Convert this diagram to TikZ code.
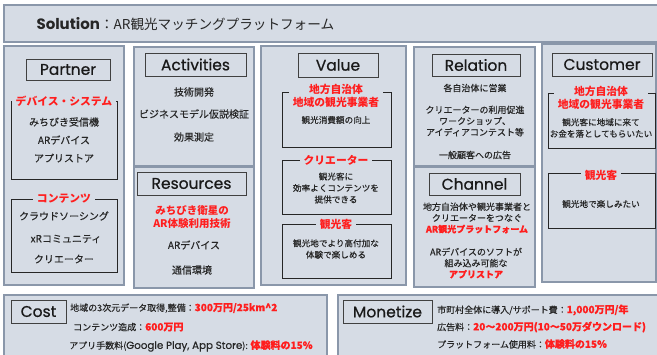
\documentclass[tikz,border=0pt]{standalone}
\usepackage{fontspec}
\setmainfont{Noto Sans CJK JP}
\newfontfamily\medfont{Noto Sans CJK JP}[FakeBold=0.35]
\newfontfamily\popfont{Poppins}
\newfontfamily\popmed{Poppins}[FakeBold=0.6]
\usetikzlibrary{fit}
\definecolor{bg}{HTML}{D6DCE5}
\definecolor{colb}{HTML}{8A97AA}
\definecolor{ttlb}{HTML}{404040}
\definecolor{brkb}{HTML}{262626}
\definecolor{rd}{HTML}{FF1E1E}
\definecolor{tx}{HTML}{262626}
\tikzset{
  colbox/.style={draw=colb, fill=bg, line width=1.3pt, inner sep=0pt},
  ttlbox/.style={draw=ttlb, fill=bg, line width=1pt, inner sep=0pt},
  ttltxt/.style={font=\popmed\fontsize{15.5}{15.5}\selectfont, text=black!90, inner sep=0pt},
  brkbox/.style={draw=brkb, line width=0.9pt, inner sep=0pt},
  brkhead/.style={fill=bg, text=rd, font=\bfseries\fontsize{10.8}{13.5}\selectfont,
     inner xsep=4pt, inner ysep=0.5pt, align=center},
  body/.style={font=\medfont\fontsize{10}{13}\selectfont, text=tx, align=center, inner sep=0pt},
  small/.style={font=\medfont\fontsize{8.6}{11.5}\selectfont, text=tx, align=center, inner sep=0pt},
  mid/.style={font=\medfont\fontsize{9}{11.2}\selectfont, text=tx, align=center, inner sep=0pt},
  redb/.style={text=rd, font=\bfseries\fontsize{10.5}{13}\selectfont, align=center, inner sep=0pt},
  line/.style={anchor=west, font=\medfont\fontsize{9}{11}\selectfont, text=tx, inner sep=0pt},
}
\newcommand\rtx[1]{{\color{rd}\bfseries\fontsize{10}{11}\selectfont #1}}
\begin{document}
\begin{tikzpicture}[x=1pt,y=-1pt]
\useasboundingbox (0,0) rectangle (657,354);
% title
\node[colbox, fit={(4,5) (662,42)}] (title) {};
\node[anchor=west, font=\fontsize{13.6}{16}\selectfont, text=tx] (titletxt) at (33,24)
  {{\popfont\bfseries\fontsize{15}{16}\selectfont Solution}：AR観光マッチングプラットフォーム};
% columns
\node[colbox, fit={(4,46) (124,285)}] (partner) {};
\node[colbox, fit={(134,47) (254,166)}] (activities) {};
\node[colbox, fit={(134,167) (254,288)}] (resources) {};
\node[colbox, fit={(261,46) (406,285)}] (value) {};
\node[colbox, fit={(414,47) (535,166)}] (relation) {};
\node[colbox, fit={(414,167) (535,287)}] (channel) {};
\node[colbox, fit={(542,44) (656,282)}] (customer) {};
\node[colbox, fit={(4,295) (327,360)}] (cost) {};
\node[colbox, fit={(338,295) (662,360)}] (monetize) {};
% heading boxes
\node[ttlbox, fit={(26,59) (110,80)}] (partnerT) {};
\node[ttltxt] at (partnerT) {Partner};
\node[ttlbox, fit={(145,53) (246,76)}] (activitiesT) {};
\node[ttltxt] at (activitiesT) {Activities};
\node[ttlbox, fit={(137,172) (246,195)}] (resourcesT) {};
\node[ttltxt] at (resourcesT) {Resources};
\node[ttlbox, fit={(298,53) (378,77)}] (valueT) {};
\node[ttltxt] at (valueT) {Value};
\node[ttlbox, fit={(432,54) (520,76)}] (relationT) {};
\node[ttltxt] at (relationT) {Relation};
\node[ttlbox, fit={(429,173) (520,195)}] (channelT) {};
\node[ttltxt] at (channelT) {Channel};
\node[ttlbox, fit={(552,53) (652,76)}] (customerT) {};
\node[ttltxt] at (customerT) {Customer};
\node[ttlbox, fit={(11,300) (66,323)}] (costT) {};
\node[ttltxt] at (costT) {Cost};
\node[ttlbox, fit={(343,300) (432,323)}] (monetizeT) {};
\node[ttltxt] at (monetizeT) {Monetize};
% Partner
\node[brkbox, fit={(11,101) (117,179)}] (pb1) {};
\node[brkhead] (pb1h) at (64,101) {デバイス・システム};
\node[body] (p1) at (64,122) {みちびき受信機};
\node[body] (p2) at (64,140) {ARデバイス};
\node[body] (p3) at (64,158) {アプリストア};
\node[brkbox, fit={(11,199) (117,272)}] (pb2) {};
\node[brkhead] (pb2h) at (64,199) {コンテンツ};
\node[body] (p4) at (64,216) {クラウドソーシング};
\node[body] (p5) at (66,239) {xRコミュニティ};
\node[body] (p6) at (64,259) {クリエーター};
% Activities
\node[body] (a1) at (194,92) {技術開発};
\node[body] (a2) at (194,114) {ビジネスモデル仮説検証};
\node[body] (a3) at (194,137) {効果測定};
% Resources
\node[redb] (r1) at (192,217) {みちびき衛星の\\AR体験利用技術};
\node[body] (r2) at (194,245) {ARデバイス};
\node[body] (r3) at (192,270) {通信環境};
% Value
\node[brkbox, fit={(282,92) (391,147)}] (vb1) {};
\node[brkhead] (vb1h) at (336,96) {地方自治体\\地域の観光事業者};
\node[small] (v1) at (336,120) {観光消費額の向上};
\node[brkbox, fit={(282,160) (391,214)}] (vb2) {};
\node[brkhead] (vb2h) at (336,160) {クリエーター};
\node[small] (v2) at (336,188) {観光客に\\効率よくコンテンツを\\提供できる};
\node[brkbox, fit={(282,224) (391,278)}] (vb3) {};
\node[brkhead] (vb3h) at (336,224) {観光客};
\node[small] (v3) at (336,249) {観光地でより高付加な\\体験で楽しめる};
% Relation
\node[mid] (re1) at (475,88) {各自治体に営業};
\node[mid] (re2) at (475,121) {クリエーターの利用促進\\ワークショップ、\\アイディアコンテスト等};
\node[mid] (re3) at (475,155) {一般顧客への広告};
% Channel
\node[mid] (c1) at (477,218) {地方自治体や観光事業者と\\クリエーターをつなぐ\\{\color{rd}\bfseries AR観光プラットフォーム}};
\node[mid] (c2) at (476,263) {ARデバイスのソフトが\\組み込み可能な\\{\color{rd}\bfseries アプリストア}};
% Customer
\node[brkbox, fit={(548,93) (655,148)}] (cb1) {};
\node[brkhead] (cb1h) at (601,98) {地方自治体\\地域の観光事業者};
\node[small] (cu1) at (601,128) {観光客に地域に来て\\お金を落としてもらいたい};
\node[brkbox, fit={(548,173) (655,228)}] (cb2) {};
\node[brkhead] (cb2h) at (601,175) {観光客};
\node[small] (cu2) at (601,204) {観光地で楽しみたい};
% Cost
\node[line] (co1) at (70,308) {地域の3次元データ取得,整備：\rtx{300万円/25km\textasciicircum 2}};
\node[line] (co2) at (73,327) {コンテンツ造成：\rtx{600万円}};
\node[line] (co3) at (69,346) {アプリ手数料({\popmed\fontsize{10.3}{11}\selectfont Google Play, App Store}): \rtx{体験料の15\%}};
% Monetize
\node[line] (m1) at (437,310) {市町村全体に導入/サポート費：\rtx{1,000万円/年}};
\node[line] (m2) at (437,327) {広告料：\rtx{20～200万円(10～50万ダウンロード)}};
\node[line] (m3) at (437,344) {プラットフォーム使用料：\rtx{体験料の15\%}};
\end{tikzpicture}
\end{document}
